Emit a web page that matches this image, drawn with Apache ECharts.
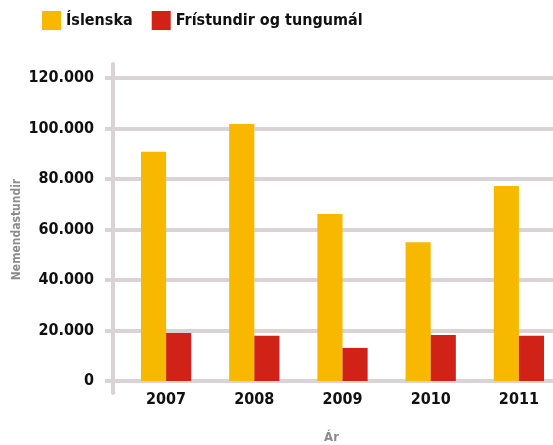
<!DOCTYPE html>
<html>
<head>
<meta charset="utf-8">
<script src="https://cdn.jsdelivr.net/npm/echarts@6/dist/echarts.min.js"></script>
<style>
  html, body { margin: 0; padding: 0; background: #fff; }
  #chart { width: 553px; height: 445px; }
</style>
</head>
<body>
<div id="chart"></div>
<script>
const years = ['2007', '2008', '2009', '2010', '2011'];
const islenska = [90800, 101800, 66100, 55000, 77200];
const fristundir = [19000, 17900, 13100, 18200, 17900];
const seriesNames = ['Íslenska', 'Frístundir og tungumál'];

const font = '"DejaVu Sans Condensed", "Liberation Sans", sans-serif';
const lineGray = '#d9d3d5';

const fmt = (v) => v === 0 ? '0' : v.toLocaleString('de-DE');

var chartDom = document.getElementById('chart');
let myChart = echarts.init(chartDom);

let option = {
  animation: false,
  legend: {
    left: 42,
    top: 11,
    padding: 0,
    itemWidth: 19,
    itemHeight: 19,
    itemGap: 19,
    icon: 'rect',
    data: seriesNames,
    textStyle: { fontFamily: font, fontWeight: 'bold', fontSize: 16, color: '#111' }
  },
  grid: [
    { left: 122, width: 441, top: 78, bottom: 64, outerBoundsMode: 'none' },
    // only used for the long vertical axis line
    { left: 113, right: 0, top: 64, bottom: 52, outerBoundsMode: 'none' }
  ],
  xAxis: [
    {
      type: 'category',
      data: years,
      axisTick: { show: false },
      axisLine: { lineStyle: { color: lineGray, width: 4 } },
      axisLabel: { fontFamily: font, fontWeight: 'bold', fontSize: 16, color: '#111', margin: 11 },
      name: 'Ár',
      nameLocation: 'middle',
      nameGap: 50,
      nameMoveOverlap: false,
      nameTextStyle: { fontFamily: font, fontWeight: 'bold', fontSize: 13, color: '#8c8c8c', padding: [0, 22, 0, 0] }
    },
    { gridIndex: 1, type: 'value', show: false }
  ],
  yAxis: [
    {
      type: 'value',
      min: 0,
      max: 120000,
      interval: 20000,
      axisLine: { show: false },
      axisTick: { show: true, length: 17, lineStyle: { color: lineGray, width: 4 } },
      splitLine: { lineStyle: { color: lineGray, width: 4 } },
      axisLabel: {
        fontFamily: font, fontWeight: 'bold', fontSize: 16, color: '#111', margin: 28,
        formatter: fmt
      },
      name: 'Nemendastundir',
      nameLocation: 'middle',
      nameGap: 99,
      nameMoveOverlap: false,
      nameTextStyle: { fontFamily: font, fontWeight: 'bold', fontSize: 12, color: '#8c8c8c' }
    },
    {
      gridIndex: 1,
      type: 'value',
      min: 0,
      max: 1,
      axisLine: { show: true, lineStyle: { color: lineGray, width: 4 } },
      axisTick: { show: false },
      axisLabel: { show: false },
      splitLine: { show: false }
    }
  ],
  series: [
    {
      name: seriesNames[0],
      type: 'bar',
      data: islenska,
      itemStyle: { color: '#f9b800' },
      barGap: '0%',
      barCategoryGap: '43%'
    },
    {
      name: seriesNames[1],
      type: 'bar',
      data: fristundir,
      itemStyle: { color: '#d02216' }
    }
  ]
};

option && myChart.setOption(option);
</script>
</body>
</html>
